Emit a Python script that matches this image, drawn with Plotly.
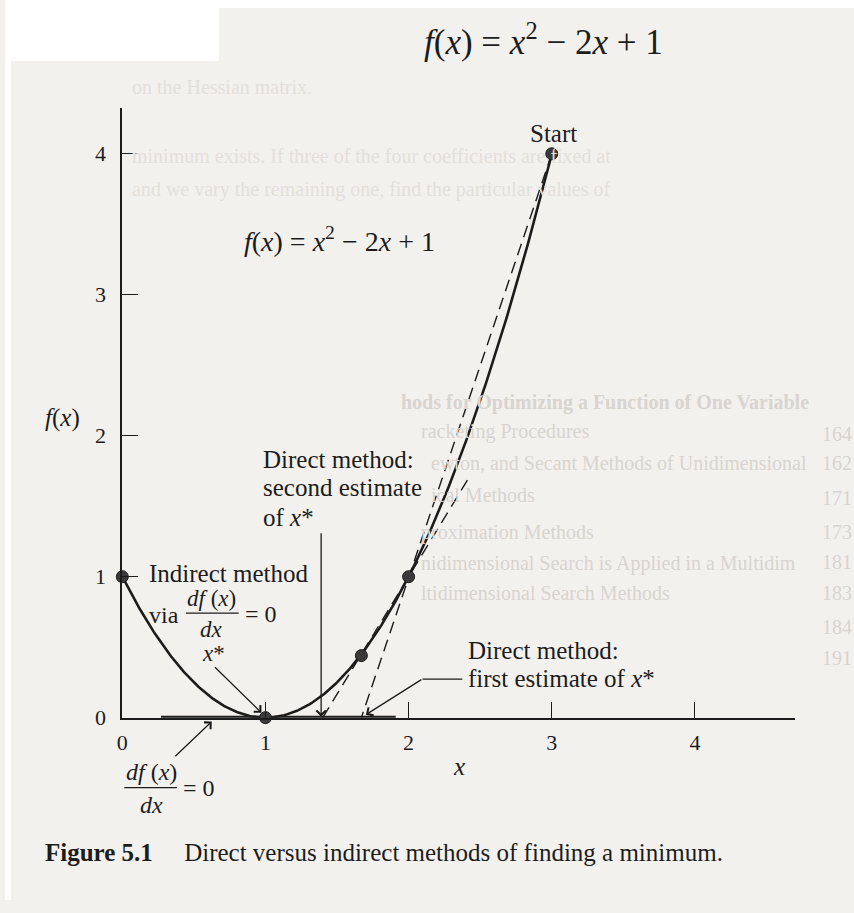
import numpy as np
import plotly.graph_objects as go

# ---- data ---------------------------------------------------------------
# f(x) = x^2 - 2x + 1, drawn over 0 <= x <= 3
curve_x = np.linspace(0, 3, 301)
curve_y = curve_x ** 2 - 2 * curve_x + 1

# highlighted points on the curve (start, estimates, minimum, intercept)
point_x = [0, 1, 1.67, 2, 3]
point_y = [1, 0, 0.44, 1, 4]

# secant lines of the direct method
secant1_x = [3, 1.67]
secant1_y = [4, 0]
secant2_x = [1.40, 2.42]
secant2_y = [0, 1.70]

# heavy segment along the axis where df/dx = 0 is marked
flat_x = [0.27, 1.91]
flat_y = [0, 0]

tick_vals = [0, 1, 2, 3, 4]
tick_text = ["0", "1", "2", "3", "4"]

# ---- page geometry (pixels of the 854 x 913 page) ------------------------
W, H = 854, 913
X0, SX = 118, 144.0   # pixel of x = 0, pixels per unit
Y0, SY = 728, 143.0   # pixel of y = 0, pixels per unit
X_END, Y_END = 795, 110

SERIF = "Liberation Serif, Times New Roman, serif"
INK = "#1c1c1c"
PAGE = "#f3f1ee"


def ux(px):
    return (px - X0) / SX


def uy(py):
    return (Y0 - py) / SY


def paper_x(px):
    return px / W


def paper_y(py):
    return 1 - py / H


fig = go.Figure()

fig.add_trace(go.Scatter(x=flat_x, y=flat_y, mode="lines",
                         line=dict(color=INK, width=4), cliponaxis=False,
                         hoverinfo="skip", showlegend=False))
fig.add_trace(go.Scatter(x=curve_x, y=curve_y, mode="lines",
                         line=dict(color=INK, width=2.6), cliponaxis=False,
                         showlegend=False))
for sx, sy in [(secant1_x, secant1_y), (secant2_x, secant2_y)]:
    fig.add_trace(go.Scatter(x=sx, y=sy, mode="lines",
                             line=dict(color=INK, width=1.4, dash="12px,7px"),
                             cliponaxis=False, showlegend=False))
fig.add_trace(go.Scatter(x=point_x, y=point_y, mode="markers",
                         marker=dict(size=12, color="#3a3a3a",
                                     line=dict(color=INK, width=1)),
                         cliponaxis=False, showlegend=False))

annotations = []
shapes = []

PAD = 3  # annotation text inset, in pixels


def text(px, py, s, size=25, anchor="left", color=INK):
    if anchor == "left":
        px -= PAD
    elif anchor == "right":
        px += PAD
    annotations.append(dict(x=paper_x(px), y=paper_y(py), xref="paper",
                            yref="paper", text=s, showarrow=False,
                            xanchor=anchor, yanchor="middle", borderpad=0,
                            font=dict(family=SERIF, size=size, color=color)))


def arrow(tail, tip):
    annotations.append(dict(x=paper_x(tip[0]), y=paper_y(tip[1]),
                            xref="paper", yref="paper",
                            ax=tail[0] - tip[0], ay=tail[1] - tip[1],
                            axref="pixel", ayref="pixel",
                            text="", showarrow=True, arrowhead=4,
                            arrowsize=1.4, arrowwidth=1.3, arrowcolor=INK,
                            standoff=0, startstandoff=0))


def seg(p0, p1, width=1.3):
    shapes.append(dict(type="line", xref="paper", yref="paper",
                       x0=paper_x(p0[0]), y0=paper_y(p0[1]),
                       x1=paper_x(p1[0]), y1=paper_y(p1[1]),
                       line=dict(color=INK, width=width)))


# faint text showing through from the facing page
GHOST_DARK = "#d8d4cf"
GHOST_LIGHT = "#e3dfda"
ghost_upper = [
    (130, 88, "on the Hessian matrix."),
    (130, 158, "minimum exists. If three of the four coefficients are fixed at"),
    (130, 192, "and we vary the remaining one, find the particular values of"),
]
for gx, gy, gs in ghost_upper:
    text(gx, gy, gs, size=20, color=GHOST_LIGHT)

ghost_middle = [
    (400, 408, "<b>hods for Optimizing a Function of One Variable</b>"),
    (420, 438, "racketing Procedures"),
    (430, 470, "ewton, and Secant Methods of Unidimensional"),
    (430, 502, "ical Methods"),
    (420, 540, "proximation Methods"),
    (420, 572, "nidimensional Search is Applied in a Multidim"),
    (420, 602, "ltidimensional Search Methods"),
]
for gx, gy, gs in ghost_middle:
    text(gx, gy, gs, size=20, color=GHOST_DARK)
for gy, gs in [(440, "164"), (470, "162"), (505, "171"), (540, "173"),
               (570, "181"), (602, "183"), (636, "184"), (668, "191")]:
    text(850, gy, gs, size=20, anchor="right", color=GHOST_DARK)

# heading formula and in-plot formula
text(542, 40, "<i>f</i>(<i>x</i>) = <i>x</i><sup>2</sup> \u2212 2<i>x</i> + 1",
     size=35, anchor="center")
text(336, 243, "<i>f</i>(<i>x</i>) = <i>x</i><sup>2</sup> \u2212 2<i>x</i> + 1",
     size=28, anchor="center")

text(552, 135, "Start", anchor="center")

# axis titles
text(58, 424, "<i>f</i>(<i>x</i>)", size=25, anchor="center")
text(457, 778, "<i>x</i>", size=25, anchor="center")

# second estimate label and arrow
text(262, 466, "Direct method:")
text(262, 495, "second estimate")
text(262, 525, "of <i>x</i>*")
arrow((318, 542), (318, 727))

# indirect method label
text(147, 582, "Indirect method")
text(147, 624, "via", size=24)
text(208, 607, "<i>df</i> (<i>x</i>)", size=23, anchor="center")
seg((182, 622), (235, 622))
text(208, 639, "<i>dx</i>", size=23, anchor="center")
text(243, 623, "= 0", size=24)
text(210, 663, "<i>x</i>*", size=23, anchor="center")
arrow((210, 676), (258, 723))

# first estimate label and leader
text(468, 660, "Direct method:")
text(468, 688, "first estimate of <i>x</i>*")
seg((420, 689), (460, 689))
arrow((420, 689), (363, 725))

# df/dx = 0 label below the axis
text(147, 783, "<i>df</i> (<i>x</i>)", size=24, anchor="center")
seg((120, 799), (173, 799))
text(147, 817, "<i>dx</i>", size=24, anchor="center")
text(181, 799, "= 0", size=24)
arrow((170, 768), (208, 732))

# caption
text(42, 865, "<b>Figure 5.1</b>\u2003 Direct versus indirect methods of finding a minimum.",
     size=25)

# page background: white scanner margins around the grey page
shapes += [
    dict(type="rect", xref="paper", yref="paper", x0=0, x1=215 / W,
         y0=1 - 62 / H, y1=1, fillcolor="white", line=dict(width=0), layer="below"),
    dict(type="rect", xref="paper", yref="paper", x0=0, x1=1,
         y0=1 - 8 / H, y1=1, fillcolor="white", line=dict(width=0), layer="below"),
    dict(type="rect", xref="paper", yref="paper", x0=0, x1=6 / W,
         y0=0, y1=1, fillcolor="white", line=dict(width=0), layer="below"),
]

axis_common = dict(showgrid=False, zeroline=False, showline=True,
                   linecolor=INK, linewidth=1.6, ticks="inside", ticklen=16,
                   tickwidth=1.4, tickcolor=INK, tickvals=tick_vals,
                   ticktext=tick_text,
                   tickfont=dict(family=SERIF, size=22, color=INK))

fig.update_layout(
    width=W, height=H,
    margin=dict(l=0, r=0, t=0, b=0),
    paper_bgcolor=PAGE, plot_bgcolor="rgba(0,0,0,0)",
    xaxis=dict(domain=[X0 / W, X_END / W], range=[0, ux(X_END)],
               ticklabelstandoff=4, **axis_common),
    yaxis=dict(domain=[1 - Y0 / H, 1 - Y_END / H], range=[0, uy(Y_END)],
               ticklabelstandoff=10, **axis_common),
    annotations=annotations, shapes=shapes,
    showlegend=False,
)

fig.write_html("out.html")
